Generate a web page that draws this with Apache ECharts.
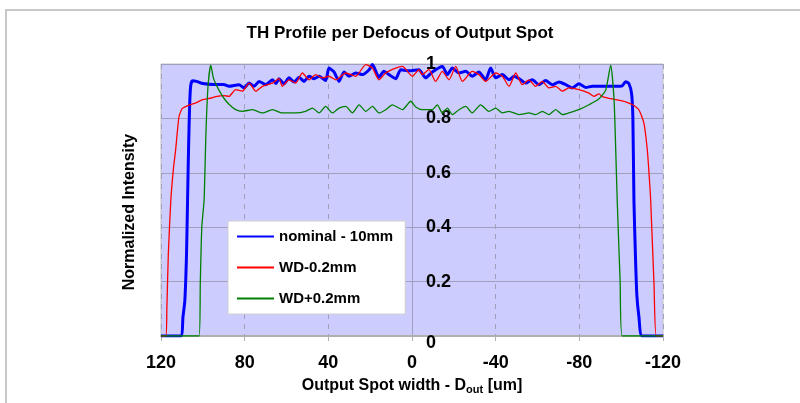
<!DOCTYPE html>
<html>
<head>
<meta charset="utf-8">
<script src="https://cdn.jsdelivr.net/npm/echarts@6/dist/echarts.min.js"></script>
<style>
  html, body { margin: 0; padding: 0; background: #fff; }
  #chart { width: 800px; height: 403px; }
</style>
</head>
<body>
<div id="chart"></div>
<script>
// values: [spot position um, normalized intensity]
const seriesNames = ['nominal - 10mm', 'WD-0.2mm', 'WD+0.2mm'];
const xTicks = [120, 80, 40, 0, -40, -80, -120];

const nominal = [
    [120, 0], [110.6, 0], [109.5, 0.07], [108.6, 0.13], [107.8, 0.3], [107.3, 0.5], [106.8, 0.7],
    [106.3, 0.85], [105.8, 0.92], [105, 0.938], [103, 0.936], [100, 0.928], [95, 0.925], [90, 0.925],
    [87.5, 0.918], [82.7, 0.924], [80.3, 0.912], [77.9, 0.930], [75.5, 0.918], [73.1, 0.936],
    [69.9, 0.924], [66.7, 0.942], [65.0, 0.928], [63.6, 0.946], [61.2, 0.927], [58.8, 0.949],
    [56.4, 0.934], [54.0, 0.951], [51.6, 0.936], [49.2, 0.955], [46.8, 0.946], [44.4, 0.955],
    [41.3, 0.939], [39.7, 0.985], [37.3, 0.971], [34.9, 0.936], [32.5, 0.971], [30.1, 0.955],
    [26.9, 0.967], [23.7, 0.961], [20.5, 0.979], [18.9, 0.998], [15.8, 0.951], [13.4, 0.973],
    [11.0, 0.961], [7.8, 0.946], [5.4, 0.979], [1.4, 0.975], [-3.3, 0.979], [-6.5, 0.949],
    [-9.7, 0.971], [-14.5, 0.991], [-16.9, 0.961], [-19.3, 0.985], [-22.5, 0.967], [-25.7, 0.973],
    [-28.8, 0.955], [-32.0, 0.971], [-35.2, 0.942], [-37.6, 0.985], [-40.0, 0.949], [-43.2, 0.961],
    [-46.4, 0.942], [-48.8, 0.955], [-51.2, 0.946], [-54.3, 0.930], [-57.5, 0.942], [-60.7, 0.924],
    [-63.9, 0.939], [-67.1, 0.924], [-70.3, 0.934], [-73.5, 0.924], [-76.6, 0.912], [-79.8, 0.927],
    [-83.0, 0.914], [-86.2, 0.918], [-89.4, 0.918], [-92, 0.918], [-97, 0.918], [-100.5, 0.92],
    [-102.1, 0.935], [-103.7, 0.928], [-105, 0.89], [-105.6, 0.8], [-106.1, 0.5], [-106.8, 0.3],
    [-107.5, 0.15], [-108.5, 0.07], [-110, 0], [-120, 0]
];

const wdMinus = [
    [120, 0], [117.7, 0], [117.2, 0.1], [116.5, 0.3], [115.3, 0.5], [114, 0.62], [113, 0.684],
    [111.4, 0.806], [109.8, 0.837], [106.6, 0.849], [103, 0.858], [100.4, 0.868], [96, 0.875],
    [93.8, 0.88], [90, 0.884], [87.5, 0.881], [84.3, 0.906], [81.1, 0.900], [77.9, 0.930],
    [74.7, 0.900], [71.5, 0.918], [66.7, 0.930], [63.6, 0.946], [62.0, 0.918], [58.8, 0.942],
    [55.6, 0.930], [52.4, 0.967], [49.2, 0.942], [46.0, 0.961], [42.9, 0.949], [39.7, 0.955],
    [36.5, 0.942], [31.7, 0.967], [26.9, 0.955], [22.1, 0.998], [18.9, 0.985], [15.8, 0.942],
    [12.6, 0.967], [7.8, 0.985], [4.6, 0.991], [-0.2, 0.955], [-3.3, 0.979], [-4.9, 0.961],
    [-8.1, 0.979], [-11.3, 0.936], [-14.5, 0.973], [-17.7, 0.942], [-20.9, 0.991], [-24.1, 0.936],
    [-28.8, 0.973], [-32.0, 0.961], [-35.2, 0.936], [-40.0, 0.967], [-43.2, 0.955], [-46.4, 0.918],
    [-49.6, 0.967], [-52.7, 0.924], [-55.9, 0.942], [-59.1, 0.918], [-62.3, 0.936], [-65.5, 0.912],
    [-68.7, 0.918], [-71.9, 0.900], [-75.0, 0.912], [-79.8, 0.906], [-84.6, 0.893], [-87.0, 0.881],
    [-89.4, 0.890], [-91, 0.88], [-94.1, 0.874], [-98, 0.868], [-102.1, 0.861], [-105.5, 0.85],
    [-108.5, 0.831], [-110.9, 0.782], [-112.5, 0.684], [-113.3, 0.6], [-114.1, 0.5], [-115.7, 0.19],
    [-116.8, 0], [-120, 0]
];

const wdPlus = [
    [120, 0], [101.8, 0], [101.2, 0.2], [100.5, 0.4], [99.4, 0.5], [98.5, 0.75], [97.5, 0.92],
    [96.2, 0.996], [95, 0.95], [94, 0.93], [92.3, 0.904], [90, 0.875], [87.5, 0.852], [84.3, 0.832],
    [81.1, 0.826], [76.3, 0.832], [71.5, 0.820], [66.7, 0.832], [62.0, 0.820], [55.6, 0.820],
    [50.9, 0.826], [47.6, 0.838], [44.4, 0.820], [41.3, 0.844], [38.1, 0.820], [34.9, 0.838],
    [31.7, 0.844], [28.5, 0.820], [25.3, 0.850], [22.1, 0.826], [18.9, 0.844], [15.8, 0.820],
    [12.6, 0.832], [9.4, 0.850], [4.6, 0.832], [0.6, 0.863], [-1.8, 0.842], [-4.9, 0.832],
    [-9.7, 0.832], [-12.1, 0.850], [-14.5, 0.820], [-16.9, 0.838], [-19.3, 0.814], [-22.5, 0.832],
    [-25.7, 0.844], [-28.8, 0.820], [-32.8, 0.850], [-36.8, 0.826], [-40.0, 0.838], [-43.2, 0.820],
    [-46.4, 0.826], [-51.2, 0.814], [-55.9, 0.820], [-59.1, 0.814], [-62.3, 0.826], [-65.5, 0.814],
    [-68.7, 0.832], [-71.9, 0.814], [-75.0, 0.820], [-79.8, 0.832], [-84.6, 0.850], [-89.4, 0.872],
    [-92.6, 0.904], [-95, 0.996], [-96.6, 0.868], [-97.4, 0.684], [-98.1, 0.5], [-99.5, 0.2],
    [-100.5, 0], [-120, 0]
];

const FONT = 'Liberation Sans, Arial, sans-serif';
const GRID_COLOR = '#a0a0bc';
const GRID_LEFT = 161;
const GRID_WIDTH = 502;

const chart = echarts.init(document.getElementById('chart'));

chart.setOption({
    backgroundColor: '#fff',
    animation: false,
    title: {
        text: 'TH Profile per Defocus of Output Spot',
        left: 'center',
        top: 25,
        padding: 0,
        textStyle: { fontFamily: FONT, fontSize: 17, fontWeight: 'bold', color: '#000' }
    },
    legend: {
        data: seriesNames,
        orient: 'vertical',
        left: 228,
        top: 221,
        backgroundColor: '#fff',
        borderColor: '#d0d0d0',
        borderWidth: 1,
        padding: [8, 12, 8, 8],
        itemWidth: 37,
        itemHeight: 14,
        itemGap: 16,
        itemStyle: { opacity: 0 },
        textStyle: { fontFamily: FONT, fontSize: 15, fontWeight: 'bold', color: '#000' }
    },
    grid: {
        show: true,
        left: GRID_LEFT,
        top: 64,
        width: GRID_WIDTH,
        bottom: 67,
        backgroundColor: '#ccccff',
        borderColor: '#c0c0c0',
        borderWidth: 1
    },
    xAxis: {
        type: 'value',
        min: -120,
        max: 120,
        interval: 40,
        inverse: true,
        name: 'Output Spot width - D{sub|out} [um]',
        nameLocation: 'middle',
        nameGap: 40,
        nameTextStyle: {
            fontFamily: FONT, fontSize: 16, fontWeight: 'bold', color: '#000',
            rich: {
                sub: { fontFamily: FONT, fontSize: 11, fontWeight: 'bold', color: '#000', padding: [8, 0, 0, 0] }
            }
        },
        axisLine: { onZero: false, lineStyle: { color: '#b0b0b0', width: 2 } },
        axisTick: { show: true, length: 5, lineStyle: { color: '#b0b0b0' } },
        axisLabel: {
            margin: 18,
            fontFamily: FONT, fontSize: 18, fontWeight: 'bold', color: '#000',
            formatter: v => xTicks.includes(v) ? String(v) : ''
        },
        splitLine: { show: true, lineStyle: { color: GRID_COLOR, type: [5, 5] } }
    },
    yAxis: {
        type: 'value',
        min: 0,
        max: 1,
        interval: 0.2,
        position: 'left',
        // the value axis crosses the x axis at 0 (middle of the reversed x range)
        offset: -GRID_WIDTH / 2,
        axisLine: { show: true, onZero: false, lineStyle: { color: GRID_COLOR } },
        axisTick: { show: false },
        axisLabel: {
            inside: true,
            margin: 14,
            fontFamily: FONT, fontSize: 18, fontWeight: 'bold', color: '#000',
            formatter: v => v === 0 ? '{z|0}' : String(+v.toFixed(1)),
            rich: {
                z: { fontFamily: FONT, fontSize: 18, fontWeight: 'bold', color: '#000', padding: [15, 0, 0, 0] }
            }
        },
        splitLine: { show: true, lineStyle: { color: GRID_COLOR } }
    },
    graphic: [
        {
            type: 'rect',
            silent: true,
            shape: { x: 6, y: 10, width: 900, height: 500 },
            style: { fill: 'none', stroke: '#c8c8c8', lineWidth: 2 }
        },
        {
            type: 'text',
            silent: true,
            x: 130,
            y: 212,
            rotation: Math.PI / 2,
            style: {
                text: 'Normalized Intensity',
                font: 'bold 16px ' + FONT,
                fill: '#000',
                align: 'center',
                verticalAlign: 'middle'
            }
        }
    ],
    series: [
        {
            name: seriesNames[0],
            type: 'line',
            data: nominal,
            symbol: 'none',
            smooth: 0.2,
            lineStyle: { color: '#0000ff', width: 3 },
            itemStyle: { color: '#0000ff' }
        },
        {
            name: seriesNames[1],
            type: 'line',
            data: wdMinus,
            symbol: 'none',
            smooth: 0.2,
            lineStyle: { color: '#ff0000', width: 1.3 },
            itemStyle: { color: '#ff0000' }
        },
        {
            name: seriesNames[2],
            type: 'line',
            data: wdPlus,
            symbol: 'none',
            smooth: 0.2,
            lineStyle: { color: '#008000', width: 1.3 },
            itemStyle: { color: '#008000' }
        }
    ]
});
</script>
</body>
</html>
